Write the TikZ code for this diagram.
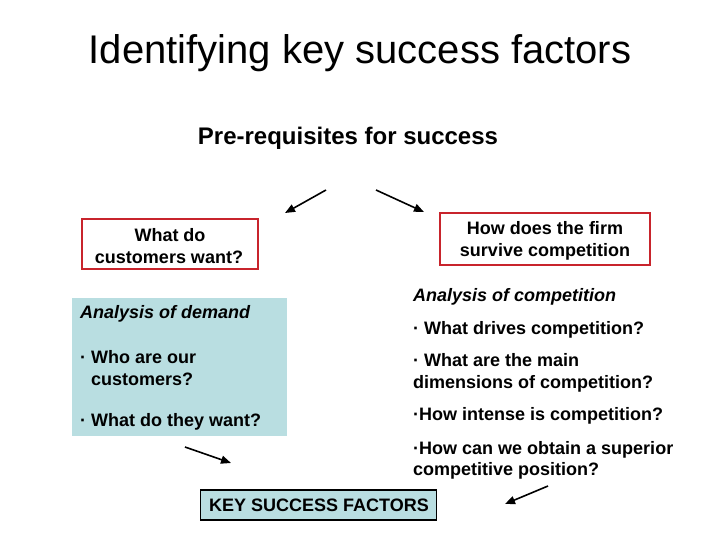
\documentclass[tikz,border=0pt]{standalone}
\usepackage{fontspec}
\setmainfont{Liberation Sans}
\usetikzlibrary{arrows.meta}
\definecolor{boxred}{RGB}{200,36,44}
\definecolor{paleblue}{RGB}{185,222,225}
\tikzset{
  txt/.style={inner sep=0pt, anchor=base west, font=\fontsize{18}{22}\selectfont\bfseries},
  ctxt/.style={inner sep=0pt, anchor=base, font=\fontsize{18}{22}\selectfont\bfseries},
  redbox/.style={draw=boxred, line width=1.8pt, inner sep=0pt},
  arr/.style={line width=1.6pt, -{Triangle[length=10pt,width=8pt]}},
}
\begin{document}
\begin{tikzpicture}[x=1pt,y=-1pt]
\useasboundingbox (0,0) rectangle (720,540);
% title
\node[inner sep=0pt, anchor=base, font=\fontsize{40}{44}\selectfont] (title) at (360,64) {Identifying key success factors};
\node[inner sep=0pt, anchor=base, font=\fontsize{24}{28}\selectfont\bfseries] (sub) at (348,145) {Pre-requisites for success};
% arrows from subtitle
\coordinate (a1s) at (326,190); \coordinate (a1e) at (285,213);
\coordinate (a2s) at (376,190); \coordinate (a2e) at (424,212);
\draw[arr] (a1s) -- (a1e);
\draw[arr] (a2s) -- (a2e);
% red boxes
\node[redbox, minimum width=176pt, minimum height=50pt] (lbox) at (170,244) {};
\node[ctxt] (l1) at (170,241) {What do};
\node[ctxt] (l2) at (169,263) {customers want?};
\node[redbox, minimum width=210pt, minimum height=52pt] (rbox) at (545,239) {};
\node[ctxt] (r1) at (545,234) {How does the firm};
\node[ctxt] (r2) at (545,256) {survive competition};
% demand box
\node[fill=paleblue, minimum width=215pt, minimum height=138pt, inner sep=0pt] (dbox) at (179.5,367) {};
\node[txt, font=\fontsize{18}{22}\selectfont\bfseries\itshape] (d0) at (80,318) {Analysis of demand};
\node[txt] (d1) at (80,363) {· Who are our};
\node[txt] (d2) at (80,385) {\phantom{·} customers?};
\node[txt] (d3) at (80,426) {· What do they want?};
% competition text
\node[txt, font=\fontsize{18}{22}\selectfont\bfseries\itshape] (c0) at (413,301) {Analysis of competition};
\node[txt] (c1) at (413,334) {· What drives competition?};
\node[txt] (c2) at (413,366) {· What are the main};
\node[txt] (c3) at (413,388) {dimensions of competition?};
\node[txt] (c4) at (413,420) {·How intense is competition?};
\node[txt] (c5) at (413,454) {·How can we obtain a superior};
\node[txt] (c6) at (413,475) {competitive position?};
% lower arrows
\coordinate (a3s) at (185,447); \coordinate (a3e) at (231,463);
\coordinate (a4s) at (548,486); \coordinate (a4e) at (505,504);
\draw[arr] (a3s) -- (a3e);
\draw[arr] (a4s) -- (a4e);
% key success factors
\node[draw=black, line width=1.6pt, fill=paleblue, minimum width=236pt, minimum height=30pt, inner sep=0pt] (ksf) at (318.5,505) {};
\node[ctxt] (ksft) at (319,511) {KEY SUCCESS FACTORS};
\end{tikzpicture}
\end{document}
